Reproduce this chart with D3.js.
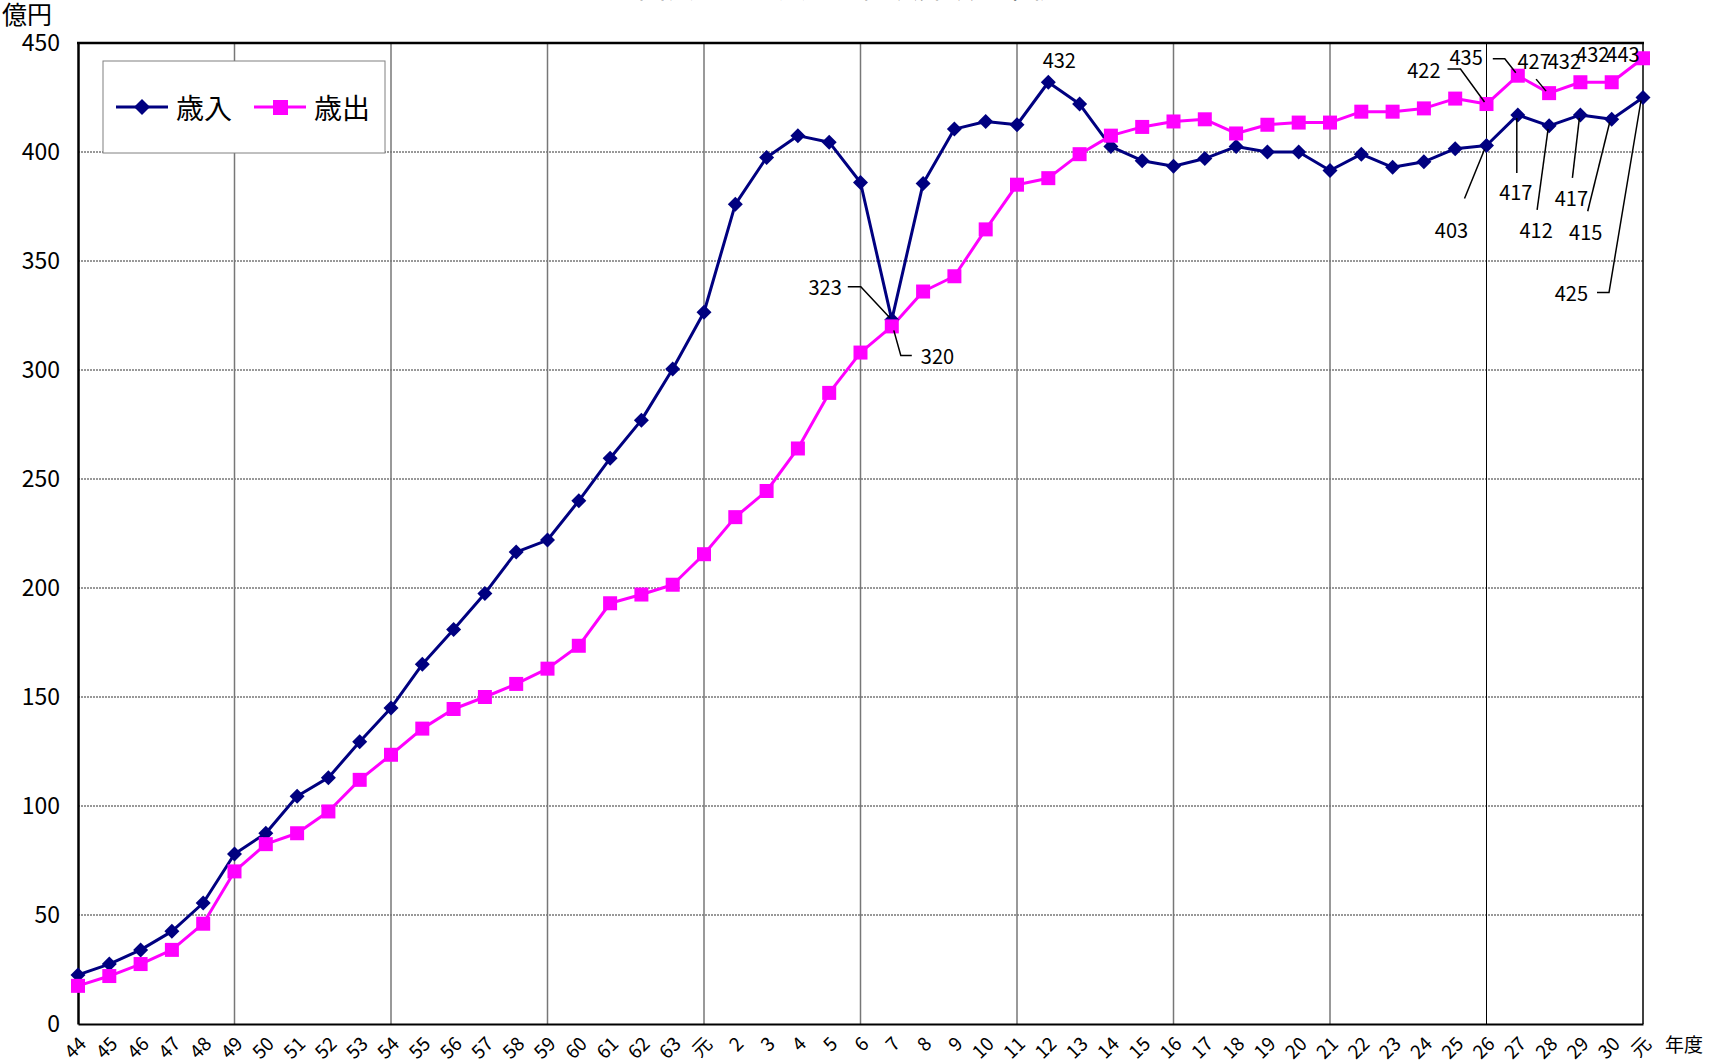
<!DOCTYPE html>
<html><head><meta charset="utf-8">
<script src="https://cdn.jsdelivr.net/npm/d3@7"></script>
<style>
body{margin:0;background:#fff}
svg{display:block}
text{font-family:"Liberation Sans Narrow","Arial Narrow","Noto Sans CJK JP",sans-serif;fill:#000}
.jp{font-family:"Noto Sans CJK JP",sans-serif}
</style>
</head><body>
<svg id="c" width="1709" height="1064"></svg>
<script>
// ---- data ----
const years = ["44","45","46","47","48","49","50","51","52","53","54","55","56","57","58","59","60","61","62","63",
  "元","2","3","4","5","6","7","8","9","10","11","12","13","14","15","16","17","18","19","20","21","22","23","24","25","26","27","28","29","30","元"];
const revenue = [22.5,27.5,34,42.5,55.5,78,87.5,104.5,113,129.5,145,165,181,197.5,216.5,222,240,259.5,277,300.5,
  326.5,376,397.5,407.5,404.5,386,323,385.5,410.5,414,412.5,432,422,402.5,396,393.5,397,402.5,400,400,391.5,399,393,395.5,401.5,403,417,412,417,415,425];
const expenditure = [17.5,22,27.5,34,46,70,82.5,87.5,97.5,112,123.5,135.5,144.5,150,156,163,173.5,193,197,201.5,
  215.5,232.5,244.5,264,289.5,308,320,336,343,364.5,385,388,399,407.5,411.5,414,415,408.5,412.5,413.5,413.5,418.5,418.5,420,424.5,422,435,427,432,432,443];
const yTicks = [0,50,100,150,200,250,300,350,400,450];
const seriesNames = ["歳入","歳出"];
const yUnit = "億円";
const xUnit = "年度";
const titleText = "図表１　歳入・歳出決算額の推移";
// labelled points: series, index, text
const callouts = [
  {s:0,i:31,t:"432"},{s:0,i:26,t:"323"},{s:1,i:26,t:"320"},
  {s:1,i:45,t:"422"},{s:1,i:46,t:"435"},{s:1,i:47,t:"427"},{s:1,i:48,t:"432"},{s:1,i:49,t:"432"},{s:1,i:50,t:"443"},
  {s:0,i:45,t:"403"},{s:0,i:46,t:"417"},{s:0,i:47,t:"412"},{s:0,i:48,t:"417"},{s:0,i:49,t:"415"},{s:0,i:50,t:"425"}
];
// ---- layout (positions of callout texts / leaders relative to point) ----
const calloutLayout = [
  {a:"middle",tx:11,ty:-23,lead:null},
  {a:"end",tx:-50,ty:-33,lead:[[-44,-33],[-31,-33],[-2,-2]]},
  {a:"start",tx:29,ty:29,lead:[[2,4],[9,29],[20,29]]},
  {a:"end",tx:-46,ty:-35,lead:[[-39,-35],[-26,-35],[-2,-2]]},
  {a:"end",tx:-35,ty:-19,lead:[[-25,-17],[-13,-17],[-2,-3]]},
  {a:"middle",tx:-15,ty:-33,lead:[[-13,-14],[-3,-2]]},
  {a:"middle",tx:-16,ty:-22,lead:null},
  {a:"middle",tx:-19,ty:-29,lead:null},
  {a:"middle",tx:-20,ty:-5,lead:null},
  {a:"middle",tx:-35,ty:84,lead:[[-22,53],[-2,4]]},
  {a:"middle",tx:-2,ty:77,lead:[[-1,58],[-1,3]]},
  {a:"middle",tx:-13,ty:104,lead:[[-12,84],[-1,3]]},
  {a:"middle",tx:-9,ty:83,lead:[[-8,63],[-1,3]]},
  {a:"middle",tx:-26,ty:112,lead:[[-24,92],[-2,3]]},
  {a:"end",tx:-55,ty:195,lead:[[-46,195],[-34,195],[-2,3]]}
];

const svg = d3.select("#c");
const M = {left:78, right:1643, top:43, bottom:1024};
const idx = d3.range(years.length);
const x = d3.scalePoint().domain(idx).range([M.left, M.right]);
const y = d3.scaleLinear().domain([0,450]).range([M.bottom, M.top]);
const colors = ["#000080","#FF00FF"];
const data = [revenue, expenditure];

// title (cut off at top)
svg.append("text").attr("class","jp").attr("x",848).attr("y",-2).attr("text-anchor","middle")
  .attr("font-size",28).text(titleText);

// horizontal dotted gridlines
svg.append("g").selectAll("line").data(yTicks.filter(v=>v>0&&v<450)).join("line")
  .attr("x1",M.left).attr("x2",M.right).attr("y1",d=>y(d)).attr("y2",d=>y(d))
  .attr("stroke","#333").attr("stroke-width",1).attr("stroke-dasharray","2,1");
// vertical gridlines every 5 categories
svg.append("g").selectAll("line").data(idx.filter(i=>i>0 && i%5===0 && i<idx.length-1)).join("line")
  .attr("x1",d=>x(d)).attr("x2",d=>x(d)).attr("y1",M.top).attr("y2",M.bottom)
  .attr("stroke",d=>d===45?"#000":"#777").attr("stroke-width",d=>d===45?1:1.5);
// right edge
svg.append("line").attr("x1",M.right).attr("x2",M.right).attr("y1",M.top).attr("y2",M.bottom)
  .attr("stroke","#000").attr("stroke-width",1.5);

// y axis
const yAxis = svg.append("g").attr("transform",`translate(${M.left},0)`)
  .call(d3.axisLeft(y).tickValues(yTicks).tickSize(0).tickPadding(18));
yAxis.select(".domain").attr("stroke","#000").attr("stroke-width",2.5);
yAxis.selectAll("text").attr("font-size",23).attr("font-family",null);

// x axis
const xAxis = svg.append("g").attr("transform",`translate(0,${M.bottom})`)
  .call(d3.axisBottom(x).tickFormat(i=>years[i]).tickSize(0).tickPadding(0));
xAxis.select(".domain").attr("stroke","#000").attr("stroke-width",2);
xAxis.selectAll("text").attr("font-size",19).attr("font-family",null)
  .attr("text-anchor","end").attr("dy",null).attr("y",0)
  .attr("transform","translate(3,15) rotate(-45)")
  .attr("dominant-baseline","central");
xAxis.selectAll(".tick text").filter(function(){return this.textContent==="元";}).attr("class","jp");
// top border
svg.append("line").attr("x1",M.left-1).attr("x2",M.right+1).attr("y1",M.top).attr("y2",M.top)
  .attr("stroke","#000").attr("stroke-width",2.5);

// unit labels
svg.append("text").attr("class","jp").attr("x",2).attr("y",24).attr("font-size",25).text(yUnit);
svg.append("text").attr("class","jp").attr("x",1665).attr("y",1052).attr("font-size",19).text(xUnit);

// lines
const line = d3.line().x((d,i)=>x(i)).y(d=>y(d));
data.forEach((arr,k)=>{
  svg.append("path").datum(arr).attr("d",line).attr("fill","none")
    .attr("stroke",colors[k]).attr("stroke-width",3).attr("stroke-linejoin","round");
});
// markers
const diamond = r=>`M0,${-r}L${r},0L0,${r}L${-r},0Z`;
svg.append("g").selectAll("path").data(revenue).join("path")
  .attr("d",diamond(7.5)).attr("transform",(d,i)=>`translate(${x(i)},${y(d)})`).attr("fill",colors[0]);
svg.append("g").selectAll("rect").data(expenditure).join("rect")
  .attr("x",(d,i)=>x(i)-7).attr("y",d=>y(d)-7).attr("width",14).attr("height",14).attr("fill",colors[1]);

// callouts
callouts.forEach((c,n)=>{
  const L = calloutLayout[n];
  const px = x(c.i), py = y(data[c.s][c.i]);
  if(L.lead){
    svg.append("polyline").attr("points",L.lead.map(p=>[px+p[0],py+p[1]].join(",")).join(" "))
      .attr("fill","none").attr("stroke","#000").attr("stroke-width",1.5);
  }
  svg.append("text").attr("x",px+L.tx).attr("y",py+L.ty).attr("text-anchor",L.a)
    .attr("dominant-baseline","central").attr("font-size",20).text(c.t);
});

// legend
const lg = svg.append("g");
lg.append("rect").attr("x",103).attr("y",61).attr("width",282).attr("height",92)
  .attr("fill","#fff").attr("stroke","#808080").attr("stroke-width",1);
const lgX = [116,254];
seriesNames.forEach((nm,k)=>{
  const g = lg.append("g");
  g.append("line").attr("x1",lgX[k]).attr("x2",lgX[k]+52).attr("y1",107).attr("y2",107)
    .attr("stroke",colors[k]).attr("stroke-width",3);
  if(k===0) g.append("path").attr("d",diamond(8)).attr("transform",`translate(${lgX[k]+26},107)`).attr("fill",colors[k]);
  else g.append("rect").attr("x",lgX[k]+19).attr("y",100).attr("width",15).attr("height",15).attr("fill",colors[k]);
  g.append("text").attr("class","jp").attr("x",lgX[k]+60).attr("y",107).attr("dominant-baseline","central")
    .attr("font-size",28).text(nm);
});
</script>
</body></html>
